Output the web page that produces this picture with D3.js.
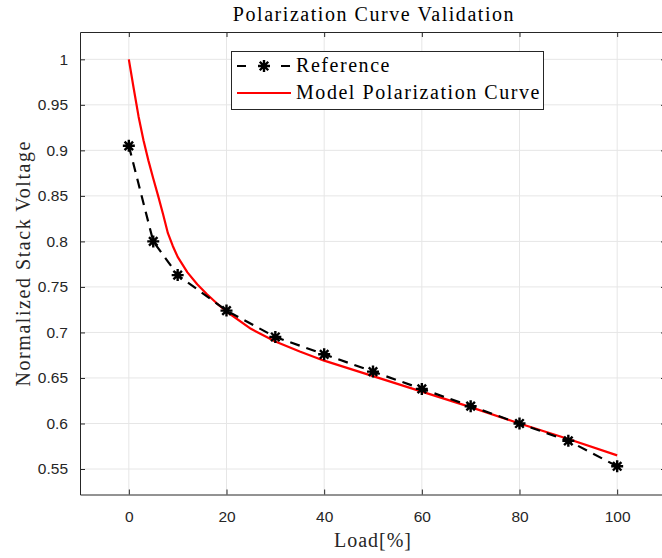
<!DOCTYPE html>
<html>
<head>
<meta charset="utf-8">
<script src="https://cdn.jsdelivr.net/npm/d3@7"></script>
<style>
  body { margin: 0; background: #fff; }
  svg { display: block; }
</style>
</head>
<body>
<div id="chart"></div>
<script>
// chart size, same as the window
const width = 662;
const height = 558;

// data
const refLoad = [0, 5, 10, 20, 30, 40, 50, 60, 70, 80, 90, 100];
const refVoltage = [0.905, 0.800, 0.763, 0.724, 0.695, 0.676, 0.657, 0.638, 0.619, 0.600, 0.581, 0.553];

const modelLoad = [0, 1, 2, 3, 4, 5, 6, 7, 8, 9, 10, 12, 14, 16, 18, 20, 25, 30, 35, 40, 50, 60, 70, 80, 90, 100];
const modelVoltage = [1.000, 0.968, 0.937, 0.911, 0.889, 0.869, 0.850, 0.830, 0.809, 0.795, 0.783, 0.766, 0.753, 0.742, 0.732, 0.723, 0.704, 0.690, 0.679, 0.669, 0.652, 0.635, 0.618, 0.600, 0.583, 0.565];

const xTicks = [0, 20, 40, 60, 80, 100];
const yTicks = [0.55, 0.6, 0.65, 0.7, 0.75, 0.8, 0.85, 0.9, 0.95, 1];

const seriesNames = ["Reference", "Model Polarization Curve"];

// plot box (the right edge runs past the window, as in the picture)
const box = {left: 80, right: 666, top: 32, bottom: 494.5};
const tickLen = 5;
const axisColor = "#262626";
const gridColor = "#e6e6e6";
const serif = "'Liberation Serif', 'DejaVu Serif', serif";
const sans = "'Liberation Sans', Arial, Helvetica, sans-serif";
// the LaTeX font in the picture runs wider than Liberation Serif
const serifSpacing = "1.55px";

const svg = d3.select("#chart")
  .append("svg")
  .attr("width", width)
  .attr("height", height);

let xScale = d3.scaleLinear()
  .domain([-10, 110])
  .range([box.left, box.right]);

let yScale = d3.scaleLinear()
  .domain([0.522, 1.030])
  .range([box.bottom, box.top]);

// grid lines
svg.append("g")
  .selectAll("line.vgrid")
  .data(xTicks)
  .enter()
  .append("line")
    .attr("x1", d => xScale(d))
    .attr("x2", d => xScale(d))
    .attr("y1", box.top)
    .attr("y2", box.bottom)
    .attr("stroke", gridColor)
    .attr("stroke-width", 1);

svg.append("g")
  .selectAll("line.hgrid")
  .data(yTicks)
  .enter()
  .append("line")
    .attr("x1", box.left)
    .attr("x2", box.right)
    .attr("y1", d => yScale(d))
    .attr("y2", d => yScale(d))
    .attr("stroke", gridColor)
    .attr("stroke-width", 1);

// axes: ticks point inward on all four sides
const axisBottom = svg.append("g")
  .attr("transform", `translate(0,${box.bottom})`)
  .call(d3.axisBottom(xScale).tickValues(xTicks).tickSizeInner(-tickLen).tickSizeOuter(0).tickPadding(16));

const axisTop = svg.append("g")
  .attr("transform", `translate(0,${box.top})`)
  .call(d3.axisTop(xScale).tickValues(xTicks).tickSizeInner(-tickLen).tickSizeOuter(0).tickFormat(""));

const axisLeft = svg.append("g")
  .attr("transform", `translate(${box.left},0)`)
  .call(d3.axisLeft(yScale).tickValues(yTicks).tickSizeInner(-tickLen).tickSizeOuter(0).tickPadding(12)
        .tickFormat(d => String(+d.toFixed(2))));

const axisRight = svg.append("g")
  .attr("transform", `translate(${box.right},0)`)
  .call(d3.axisRight(yScale).tickValues(yTicks).tickSizeInner(-tickLen).tickSizeOuter(0).tickFormat(""));

[axisBottom, axisTop, axisLeft, axisRight].forEach(g => {
  g.select(".domain").attr("stroke", axisColor).attr("stroke-width", 1);
  g.selectAll(".tick line").attr("stroke", axisColor).attr("stroke-width", 1);
  g.selectAll(".tick text")
    .attr("fill", axisColor)
    .attr("font-family", sans)
    .attr("font-size", "15.5px");
});

// model curve (red solid)
const line = d3.line()
  .x(d => xScale(d[0]))
  .y(d => yScale(d[1]));

svg.append("path")
  .datum(d3.zip(modelLoad, modelVoltage))
  .attr("d", line)
  .attr("fill", "none")
  .attr("stroke", "#ff0000")
  .attr("stroke-width", 2.2)
  .attr("stroke-linejoin", "round");

// reference (black dashed with asterisks)
svg.append("path")
  .datum(d3.zip(refLoad, refVoltage))
  .attr("d", line)
  .attr("fill", "none")
  .attr("stroke", "#000")
  .attr("stroke-width", 2.2)
  .attr("stroke-dasharray", "10,7");

// asterisk marker: four strokes through the centre
function asterisk(r) {
  const a = r * Math.SQRT1_2;
  return `M${-r},0L${r},0M0,${-r}L0,${r}M${-a},${-a}L${a},${a}M${-a},${a}L${a},${-a}`;
}

svg.append("g")
  .selectAll("path")
  .data(d3.zip(refLoad, refVoltage))
  .enter()
  .append("path")
    .attr("transform", d => `translate(${xScale(d[0])},${yScale(d[1])})`)
    .attr("d", asterisk(6))
    .attr("fill", "none")
    .attr("stroke", "#000")
    .attr("stroke-width", 2.4);

// title and axis labels
svg.append("text")
  .attr("x", 374)
  .attr("y", 21)
  .attr("text-anchor", "middle")
  .attr("font-family", serif)
  .attr("font-size", "20px")
  .attr("letter-spacing", serifSpacing)
  .attr("fill", "#000")
  .text("Polarization Curve Validation");

svg.append("text")
  .attr("x", 373)
  .attr("y", 547)
  .attr("text-anchor", "middle")
  .attr("font-family", serif)
  .attr("font-size", "20px")
  .attr("letter-spacing", "1px")
  .attr("fill", axisColor)
  .text("Load[%]");

svg.append("text")
  .attr("transform", `translate(30,${(box.top + box.bottom) / 2}) rotate(-90)`)
  .attr("text-anchor", "middle")
  .attr("font-family", serif)
  .attr("font-size", "20px")
  .attr("letter-spacing", serifSpacing)
  .attr("fill", axisColor)
  .text("Normalized Stack Voltage");

// legend
const legend = svg.append("g");
legend.append("rect")
  .attr("x", 231.5)
  .attr("y", 51.5)
  .attr("width", 312)
  .attr("height", 58)
  .attr("fill", "#fff")
  .attr("stroke", axisColor)
  .attr("stroke-width", 1);

const rowY = [66, 93];

legend.append("line")
  .attr("x1", 237).attr("x2", 291)
  .attr("y1", rowY[0]).attr("y2", rowY[0])
  .attr("stroke", "#000")
  .attr("stroke-width", 2.2)
  .attr("stroke-dasharray", "9,35");

legend.append("path")
  .attr("transform", `translate(264,${rowY[0]})`)
  .attr("d", asterisk(6))
  .attr("fill", "none")
  .attr("stroke", "#000")
  .attr("stroke-width", 2.4);

legend.append("line")
  .attr("x1", 237).attr("x2", 291)
  .attr("y1", rowY[1]).attr("y2", rowY[1])
  .attr("stroke", "#ff0000")
  .attr("stroke-width", 2.2);

legend.selectAll("text")
  .data(seriesNames)
  .enter()
  .append("text")
    .attr("x", 296)
    .attr("y", (d, i) => rowY[i] + 6)
    .attr("font-family", serif)
    .attr("font-size", "20px")
    .attr("letter-spacing", serifSpacing)
    .attr("fill", "#000")
    .text(d => d);
</script>
</body>
</html>
